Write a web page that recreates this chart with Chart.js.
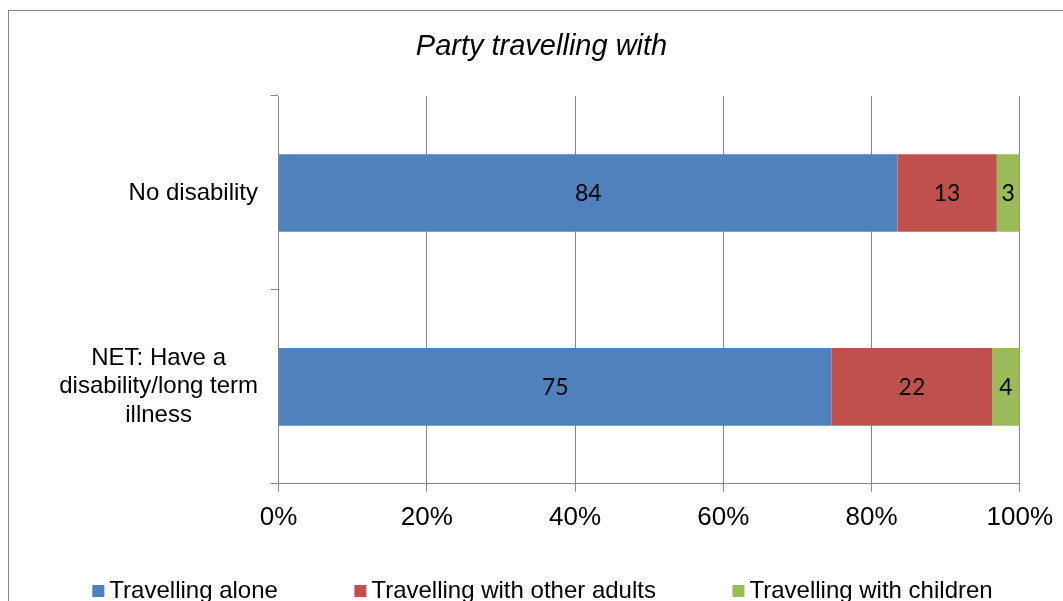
<!DOCTYPE html>
<html><head><meta charset="utf-8">
<script src="https://cdn.jsdelivr.net/npm/chart.js@4"></script>
<style>
html,body{margin:0;padding:0;background:#fff;overflow:hidden;width:1063px;height:601px;}
#frame{position:absolute;left:8px;top:10px;width:2000px;height:2000px;border:1px solid #878787;box-sizing:border-box;}
#wrap{position:absolute;left:0;top:0;width:1063px;height:601px;}
</style></head><body>
<div id="frame"></div>
<div id="wrap"><canvas id="c"></canvas></div>
<script>
const categories = ['No disability', ['NET: Have a', 'disability/long term', 'illness']];
const seriesNames = ['Travelling alone', 'Travelling with other adults', 'Travelling with children'];
const travellingAlone = [83.5, 74.6];
const travellingWithOtherAdults = [13.4, 21.7];
const travellingWithChildren = [3.1, 3.7];
const xTickLabels = ['0%', '20%', '40%', '60%', '80%', '100%'];
const seriesColors = ['#4F81BD', '#C0504D', '#9BBB59'];

const FONT = '"Liberation Sans", Arial, sans-serif';
const GRID = '#878787';

const catLabelPlugin = {
  id: 'catLabels',
  afterDraw(chart) {
    const ctx = chart.ctx, ys = chart.scales.y, area = chart.chartArea;
    ctx.save();
    ctx.font = '24px ' + FONT;
    ctx.fillStyle = '#000';
    ctx.textBaseline = 'middle';
    ctx.textAlign = 'center';
    const right = area.left - 20.5, lh = 28.5;
    categories.forEach((lab, i) => {
      const lines = Array.isArray(lab) ? lab : [lab];
      const w = Math.max(...lines.map(l => ctx.measureText(l).width));
      const cx = right - w / 2;
      const cy = ys.getPixelForValue(i);
      lines.forEach((l, j) => ctx.fillText(l, cx, cy + (j - (lines.length - 1) / 2) * lh));
    });
    ctx.restore();
  }
};

const dataLabelPlugin = {
  id: 'dataLabels',
  afterDatasetsDraw(chart) {
    const ctx = chart.ctx;
    ctx.save();
    ctx.font = '23px Lato, "Open Sans", sans-serif';
    ctx.fillStyle = '#000';
    ctx.textAlign = 'center';
    ctx.textBaseline = 'middle';
    chart.data.datasets.forEach((ds, di) => {
      const meta = chart.getDatasetMeta(di);
      meta.data.forEach((el, i) => {
        ctx.fillText(String(Math.round(ds.data[i])), (el.x + el.base) / 2, el.y + 1);
      });
    });
    ctx.restore();
  }
};

// Legend drawn below the axis, Excel style (small square + label)
const legendPlugin = {
  id: 'excelLegend',
  afterDraw(chart) {
    const ctx = chart.ctx;
    ctx.save();
    ctx.font = '24px ' + FONT;
    ctx.textBaseline = 'middle';
    ctx.textAlign = 'left';
    const box = 12, textGap = 17, itemGap = 76.5, cy = 591;
    const items = chart.data.datasets.map(ds => ({ text: ds.label, color: ds.backgroundColor, w: ctx.measureText(ds.label).width }));
    const total = items.reduce((s, it) => s + textGap + it.w, 0) + itemGap * (items.length - 1);
    let x = 542.5 - total / 2;
    items.forEach(it => {
      ctx.fillStyle = it.color;
      ctx.fillRect(x, 585, box, box);
      ctx.fillStyle = '#000';
      ctx.fillText(it.text, x + textGap, cy);
      x += textGap + it.w + itemGap;
    });
    ctx.restore();
  }
};

const seriesData = [travellingAlone, travellingWithOtherAdults, travellingWithChildren];

new Chart(document.getElementById('c'), {
  type: 'bar',
  data: {
    labels: categories,
    datasets: seriesNames.map((n, k) => ({
      label: n,
      data: seriesData[k],
      backgroundColor: seriesColors[k],
      borderWidth: 0,
      barPercentage: 0.4,
      categoryPercentage: 1.0
    }))
  },
  options: {
    indexAxis: 'y',
    responsive: true,
    maintainAspectRatio: false,
    animation: false,
    devicePixelRatio: 1,
    layout: { padding: { left: 20, right: 0, top: 0, bottom: 58 } },
    scales: {
      x: {
        stacked: true, min: 0, max: 100,
        ticks: { stepSize: 20, autoSkip: false, maxRotation: 0, color: '#000', padding: 10,
          font: { family: FONT, size: 26, lineHeight: 1.2 }, callback: (v, i) => xTickLabels[i] },
        grid: { color: GRID, tickLength: 8, lineWidth: 1 },
        border: { color: GRID }
      },
      y: {
        stacked: true,
        grid: { drawOnChartArea: false, offset: true, tickLength: 8, color: GRID },
        border: { display: true, color: GRID },
        ticks: { display: false },
        afterFit(s) { s.width = 258.5; }
      },
      yr: {
        type: 'linear', position: 'right', display: true,
        grid: { display: false }, border: { display: false }, ticks: { display: false },
        afterFit(s) { s.width = 41.5; }
      }
    },
    plugins: {
      title: {
        display: true, text: 'Party travelling with', color: '#000',
        font: { family: FONT, size: 29, style: 'italic', weight: 'normal', lineHeight: 1.2 },
        padding: { top: 30, bottom: 31.2 }
      },
      legend: { display: false },
      tooltip: { enabled: false }
    }
  },
  plugins: [catLabelPlugin, dataLabelPlugin, legendPlugin]
});
</script>
</body></html>
